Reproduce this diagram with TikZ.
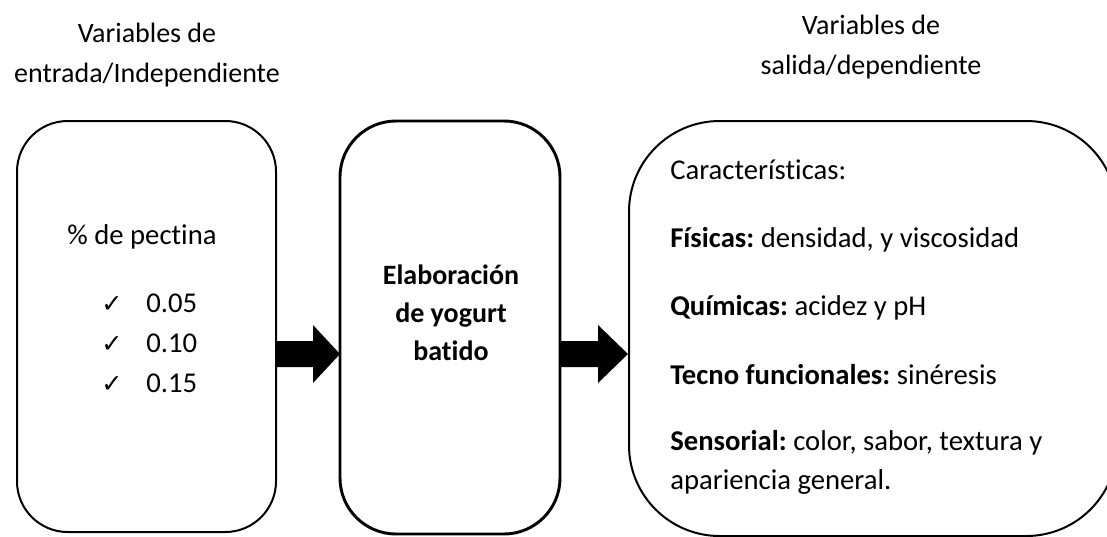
\documentclass[tikz,border=0pt]{standalone}
\usepackage{fontspec}
\setmainfont[Ligatures=NoCommon]{Carlito}
\newfontfamily\symfont{DejaVu Sans}
\frenchspacing
\begin{document}
\begin{tikzpicture}[x=0.75pt,y=-0.75pt,
  box/.style={draw=black,line width=1.5pt},
  hdr/.style={font=\fontsize{21}{30}\selectfont,align=center},
  txt/.style={font=\fontsize{21.5}{28}\selectfont\frenchspacing,inner sep=0pt},
  chk/.style={font=\symfont\fontsize{19}{22}\selectfont,inner sep=0pt},
  bigarrow/.style={fill=black,draw=none}]
\useasboundingbox (0,0) rectangle (1107,536);
\node[hdr] (h1) at (147,55) {Variables de\\entrada/Independiente};
\node[hdr] (h2) at (871,47) {Variables de\\salida/dependiente};
% boxes
\draw[box,rounded corners=38] (17,121) rectangle (276,532);
\draw[box,line width=2.2pt,rounded corners=42] (340,121) rectangle (560,534);
\draw[box,rounded corners=68] (629,121) rectangle (1117,536);
\coordinate (b1) at (276,354);
\coordinate (b2) at (340,354);
\coordinate (b3) at (561,354);
\coordinate (b4) at (628,354);
% arrows
\fill[bigarrow] (b1) ++(0,-13) -- ++(37,0) -- ++(0,-16) -- (b2) -- ++(-27,29) -- ++(0,-16) -- ++(-37,0) -- cycle;
\fill[bigarrow] (b3) ++(0,-13) -- ++(37,0) -- ++(0,-16) -- (b4) -- ++(-30,29) -- ++(0,-16) -- ++(-37,0) -- cycle;
% left text
\node[txt] (p) at (142,237) {\% de pectina};
\node[chk,anchor=base west] (k1) at (101,312) {✓};
\node[chk,anchor=base west] (k2) at (101,352) {✓};
\node[chk,anchor=base west] (k3) at (101,392) {✓};
\node[txt,anchor=base west] (c1) at (146,312) {0.05};
\node[txt,anchor=base west] (c2) at (146,352) {0.10};
\node[txt,anchor=base west] (c3) at (146,392) {0.15};
% middle text
\node[txt,font=\fontsize{21}{28.5}\selectfont\bfseries,align=center] (m) at (451,313) {Elaboración\\de yogurt\\batido};
% right text
\node[txt,anchor=base west] (r1) at (670,179) {Características:};
\node[txt,anchor=base west] (r2) at (670,247) {\textbf{Físicas:} densidad, y viscosidad};
\node[txt,anchor=base west] (r3) at (670,315) {\textbf{Químicas:} acidez y pH};
\node[txt,anchor=base west] (r4) at (670,384) {\textbf{Tecno funcionales:} sinéresis};
\node[txt,anchor=base west] (r5) at (670,450) {\textbf{Sensorial:} color, sabor, textura y};
\node[txt,anchor=base west] (r6) at (670,489) {apariencia general.};
\end{tikzpicture}
\end{document}
